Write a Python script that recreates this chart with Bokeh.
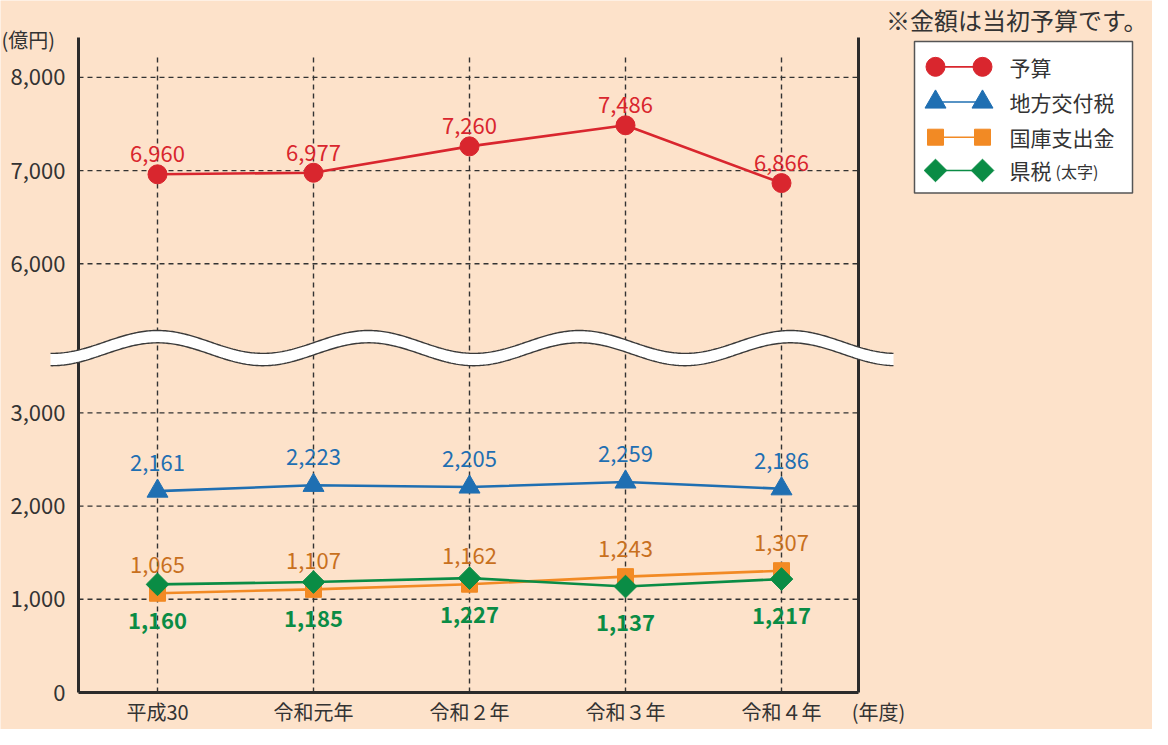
import numpy as np
from bokeh.plotting import figure
from bokeh.models import Range1d, FixedTicker
from bokeh.core.properties import value
from bokeh.embed import file_html
from bokeh.resources import INLINE

# ---------------- data ----------------
categories = ["平成30", "令和元年", "令和２年", "令和３年", "令和４年"]
budget = [6960, 6977, 7260, 7486, 6866]          # 予算
local_tax = [2161, 2223, 2205, 2259, 2186]       # 地方交付税
treasury = [1065, 1107, 1162, 1243, 1307]        # 国庫支出金
pref_tax = [1160, 1185, 1227, 1137, 1217]        # 県税
lower_ticks = [0, 1000, 2000, 3000]
upper_ticks = [6000, 7000, 8000]
series_names = ["予算", "地方交付税", "国庫支出金", "県税"]

BREAK_SHIFT = 1400  # values above the axis break are drawn shifted down by this

# ---------------- style ----------------
FONT = value("Noto Sans CJK JP")
BG = "#FDE2CA"
INK = "#333333"
RED, BLUE, ORANGE, GREEN = "#D9262E", "#1F6FB2", "#F28A24", "#0A8C45"
ORANGE_TXT = "#C8701E"

W, H = 1152, 729
X0_PX, X_STEP = 165, 156
AX_BOTTOM = 700
RATIO = (AX_BOTTOM - 45) / (715 - 45)
Y0_PX, Y_K = AX_BOTTOM, 0.095333 * RATIO


def px2x(px):
    return (np.asarray(px, dtype=float) - X0_PX) / X_STEP


def py2y(py):
    return (Y0_PX - np.asarray(py, dtype=float)) / Y_K


def ref(py):
    """reference-picture pixel row -> slightly compressed row used here"""
    py = np.asarray(py, dtype=float)
    return np.where(py <= 45, py, 45 + (py - 45) * RATIO)


p = figure(width=W, height=H, output_backend="svg", toolbar_location=None,
           x_range=Range1d(float(px2x(8)), float(px2x(8 + W))),
           y_range=Range1d(float(py2y(8 + H)), float(py2y(8))),
           min_border=0, min_border_left=0, min_border_right=0,
           min_border_top=0, min_border_bottom=0)
p.title.text = ""
p.background_fill_color = BG
p.border_fill_color = BG
p.outline_line_color = None
p.xgrid.visible = False
p.ygrid.visible = False

x = list(range(len(categories)))
x_lo, x_hi = float(px2x(86)), float(px2x(866))
upper_disp = [t - BREAK_SHIFT for t in upper_ticks]
budget_disp = [v - BREAK_SHIFT for v in budget]

# ---------------- axes (library axes, fixed in the frame) ----------------
yax = p.yaxis[0]
yax.fixed_location = x_lo
yax.ticker = FixedTicker(ticks=lower_ticks + upper_disp)
overrides = {t: f"{t:,}" for t in lower_ticks}
overrides.update({d: f"{t:,}" for d, t in zip(upper_disp, upper_ticks)})
yax.major_label_overrides = overrides
yax.axis_line_color = None
yax.major_tick_line_color = None
yax.minor_tick_line_color = None
yax.major_tick_out = 0
yax.major_tick_in = 0
yax.minor_tick_out = 0
yax.major_label_text_font = "Noto Sans CJK JP"
yax.major_label_text_font_size = "22px"
yax.major_label_text_color = INK
yax.major_label_standoff = 13

xax = p.xaxis[0]
xax.fixed_location = 0
xax.ticker = FixedTicker(ticks=x)
xax.major_label_overrides = {i: c for i, c in enumerate(categories)}
xax.axis_line_color = None
xax.major_tick_line_color = None
xax.minor_tick_line_color = None
xax.major_tick_out = 0
xax.major_tick_in = 0
xax.minor_tick_out = 0
xax.major_label_text_font = "Noto Sans CJK JP"
xax.major_label_text_font_size = "20px"
xax.major_label_text_color = INK
xax.major_label_standoff = 4

# ---------------- grid ----------------
grid_vals = lower_ticks[1:] + upper_disp
p.segment(x0=[x_lo] * len(grid_vals), x1=[x_hi] * len(grid_vals),
          y0=grid_vals, y1=grid_vals, line_color=INK, line_width=1.4,
          line_dash="5 4")
vtop = float(py2y(ref(63)))
p.segment(x0=x, x1=x, y0=[0] * len(x), y1=[vtop] * len(x),
          line_color=INK, line_width=1.4, line_dash="5 4")

# frame lines
ytop = float(py2y(45))
p.segment(x0=[x_lo, x_hi, x_lo], x1=[x_lo, x_hi, x_hi],
          y0=[0, 0, 0], y1=[ytop, ytop, 0], line_color="#2B2B2B", line_width=3)

# ---------------- axis break (wave) ----------------
wpx = np.linspace(58, 901, 500)
wc = 362.7 - 11.7 * np.cos(2 * np.pi * (wpx - 165) / 211.0)
wx = px2x(wpx)
wt = py2y(ref(wc - 6.3))
wb = py2y(ref(wc + 6.3))
p.patch(np.concatenate([wx, wx[::-1]]), np.concatenate([wt, wb[::-1]]),
        fill_color="white", line_color=None)
p.line(wx, wt, line_color="#3A3A3A", line_width=1.4)
p.line(wx, wb, line_color="#3A3A3A", line_width=1.4)

# ---------------- series ----------------
p.line(x, budget_disp, line_color=RED, line_width=2.6)
p.scatter(x, budget_disp, marker="circle", size=19, fill_color=RED, line_color=RED)

p.line(x, local_tax, line_color=BLUE, line_width=2.6)
p.scatter(x, local_tax, marker="triangle", size=21, fill_color=BLUE, line_color=BLUE)

p.line(x, treasury, line_color=ORANGE, line_width=2.6)
p.scatter(x, treasury, marker="square", size=16, fill_color=ORANGE, line_color=ORANGE)

p.line(x, pref_tax, line_color=GREEN, line_width=2.6)
p.scatter(x, pref_tax, marker="square", angle=np.pi / 4, size=16,
          fill_color=GREEN, line_color=GREEN)


# ---------------- value labels ----------------
def labels(vals, ys, color, dy, bold=False):
    p.text(x=x, y=ys, text=[f"{v:,}" for v in vals], text_color=color,
           text_font=FONT, text_font_size="22px", text_align="center",
           text_baseline="middle", y_offset=dy,
           text_font_style="bold" if bold else "normal")


labels(budget, budget_disp, RED, -20)
labels(local_tax, local_tax, BLUE, -28)
labels(treasury, treasury, ORANGE_TXT, -28)
labels(pref_tax, pref_tax, GREEN, 36, bold=True)

# ---------------- extra texts ----------------
p.text(x=[float(px2x(9))], y=[float(py2y(ref(47)))], text=["(億円)"], text_color=INK,
       text_font=FONT, text_font_size="20px", text_align="left",
       text_baseline="middle")
p.text(x=[float(px2x(886))], y=[float(py2y(AX_BOTTOM + 19))], text=["(年度)"],
       text_color=INK, text_font=FONT, text_font_size="20px", text_align="center",
       text_baseline="middle")
p.text(x=[float(px2x(1155))], y=[float(py2y(27))], text=["※金額は当初予算です。"],
       text_color=INK, text_font=FONT, text_font_size="24px", text_align="right",
       text_baseline="middle")

# ---------------- legend (drawn manually) ----------------
p.quad(left=[float(px2x(922))], right=[float(px2x(1140))],
       top=[float(py2y(ref(49)))], bottom=[float(py2y(ref(204)))],
       fill_color="white", line_color="#555555", line_width=1.5)
leg_py = [75, 111, 147, 181]
leg_style = [("circle", 0, 19, RED), ("triangle", 0, 21, BLUE),
             ("square", 0, 16, ORANGE), ("square", np.pi / 4, 16, GREEN)]
lx0, lx1 = float(px2x(943)), float(px2x(990))
for name, py, (mk, ang, sz, col) in zip(series_names, leg_py, leg_style):
    ly = float(py2y(ref(py)))
    p.line([lx0, lx1], [ly, ly], line_color=col, line_width=1.6)
    p.scatter([lx0, lx1], [ly, ly], marker=mk, angle=ang, size=sz,
              fill_color=col, line_color=col)
    p.text(x=[float(px2x(1017))], y=[ly], text=[name], text_color=INK,
           text_font=FONT, text_font_size="21px", text_align="left",
           text_baseline="middle")
p.text(x=[float(px2x(1063))], y=[float(py2y(ref(182)))], text=["(太字)"], text_color=INK,
       text_font=FONT, text_font_size="16px", text_align="left",
       text_baseline="middle")

open("out.html", "w").write(file_html(p, INLINE))
